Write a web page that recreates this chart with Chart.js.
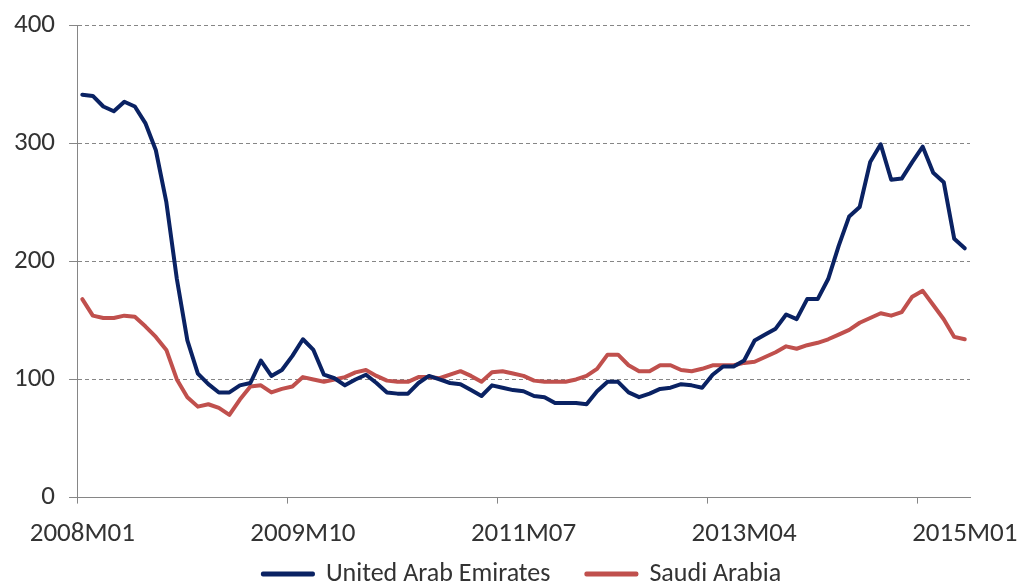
<!DOCTYPE html>
<html>
<head>
<meta charset="utf-8">
<script src="https://cdn.jsdelivr.net/npm/chart.js@4.4.1/dist/chart.umd.min.js"></script>
<style>
  html, body { margin: 0; padding: 0; background: #fff; overflow: hidden; }
</style>
</head>
<body>
<canvas id="chart" width="1019" height="636"></canvas>
<script>
// monthly categories 2008M01 .. 2015M01
const months = [];
for (let y = 2008; y <= 2015; y++) {
    for (let m = 1; m <= 12; m++) {
        if (y === 2015 && m > 1) break;
        months.push(y + 'M' + String(m).padStart(2, '0'));
    }
}
const tickLabels = ['2008M01', '2009M10', '2011M07', '2013M04', '2015M01'];

const uae = [
    341, 340, 331, 327, 335, 331, 317, 294, 250, 185,
    133, 105, 96, 89, 89, 95, 97, 116, 103, 108,
    120, 134, 125, 104, 101, 95, 100, 104, 97, 89,
    88, 88, 97, 103, 100, 97, 96, 91, 86, 95,
    93, 91, 90, 86, 85, 80, 80, 80, 79, 90,
    98, 98, 89, 85, 88, 92, 93, 96, 95, 93,
    104, 111, 111, 116, 133, 138, 143, 155, 151, 168,
    168, 185, 213, 238, 246, 284, 299, 269, 270, 284,
    297, 275, 267, 219, 211
];
const saudi = [
    168, 154, 152, 152, 154, 153, 145, 136, 125, 100,
    85, 77, 79, 76, 70, 83, 94, 95, 89, 92,
    94, 102, 100, 98, 100, 102, 106, 108, 103, 99,
    98, 98, 102, 102, 101, 104, 107, 103, 98, 106,
    107, 105, 103, 99, 98, 98, 98, 100, 103, 109,
    121, 121, 112, 107, 107, 112, 112, 108, 107, 109,
    112, 112, 112, 114, 115, 119, 123, 128, 126, 129,
    131, 134, 138, 142, 148, 152, 156, 154, 157, 170,
    175, 163, 151, 136, 134
];

const FONT = 'Carlito, Calibri, Lato, sans-serif';
const axisGrey = '#868686';
const textCol = '#333333';

// the legend sits tight under the axis labels (cut by the page edge)
const legendNudge = {
    id: 'legendNudge',
    afterLayout(chart) {
        const lg = chart.legend;
        const dy = 525 - lg.top;
        lg.top += dy; lg.bottom += dy;
        lg.left += 37; lg.right += 37;
    }
};

const ctx = document.getElementById('chart').getContext('2d');
new Chart(ctx, {
    type: 'line',
    data: {
        labels: months,
        datasets: [{
            label: 'United Arab Emirates',
            data: uae,
            borderColor: '#0a2263',
            backgroundColor: '#0a2263',
            borderWidth: 4,
            pointRadius: 0,
            tension: 0,
            borderJoinStyle: 'round',
            borderCapStyle: 'round'
        }, {
            label: 'Saudi Arabia',
            data: saudi,
            borderColor: '#c0504d',
            backgroundColor: '#c0504d',
            borderWidth: 4,
            pointRadius: 0,
            tension: 0,
            borderJoinStyle: 'round',
            borderCapStyle: 'round'
        }]
    },
    plugins: [legendNudge],
    options: {
        responsive: false,
        animation: false,
        layout: { padding: { left: 0, right: 49, top: 25, bottom: 0 } },
        plugins: {
            legend: {
                position: 'bottom',
                labels: {
                    boxWidth: 50,
                    boxHeight: 1,
                    padding: 36,
                    color: textCol,
                    font: { family: FONT, size: 26 }
                }
            },
            tooltip: { enabled: false }
        },
        scales: {
            x: {
                offset: true,
                grid: {
                    offset: true,
                    drawOnChartArea: false,
                    tickLength: 6,
                    color: c => (c.index % 20 === 0 ? axisGrey : 'transparent')
                },
                border: { color: axisGrey, width: 1 },
                ticks: {
                    autoSkip: false,
                    maxRotation: 0,
                    padding: 14,
                    color: textCol,
                    font: { family: FONT, size: 27 },
                    callback: function (v, i) {
                        const l = months[i];
                        return tickLabels.includes(l) ? l : '';
                    }
                },
                // end labels may hang past the plot edges
                afterFit: s => {
                    s.paddingLeft = 0;
                    s.paddingRight = 0;
                }
            },
            y: {
                min: 0,
                max: 400,
                ticks: {
                    stepSize: 100,
                    padding: 14,
                    color: textCol,
                    font: { family: FONT, size: 27 }
                },
                grid: {
                    color: axisGrey,
                    tickLength: 8,
                    tickColor: axisGrey,
                    tickBorderDash: []
                },
                border: { color: axisGrey, width: 1, dash: [4, 3] },
                afterFit: s => {
                    s.paddingTop = 0;
                    s.paddingBottom = 0;
                }
            }
        }
    }
});
</script>
</body>
</html>
